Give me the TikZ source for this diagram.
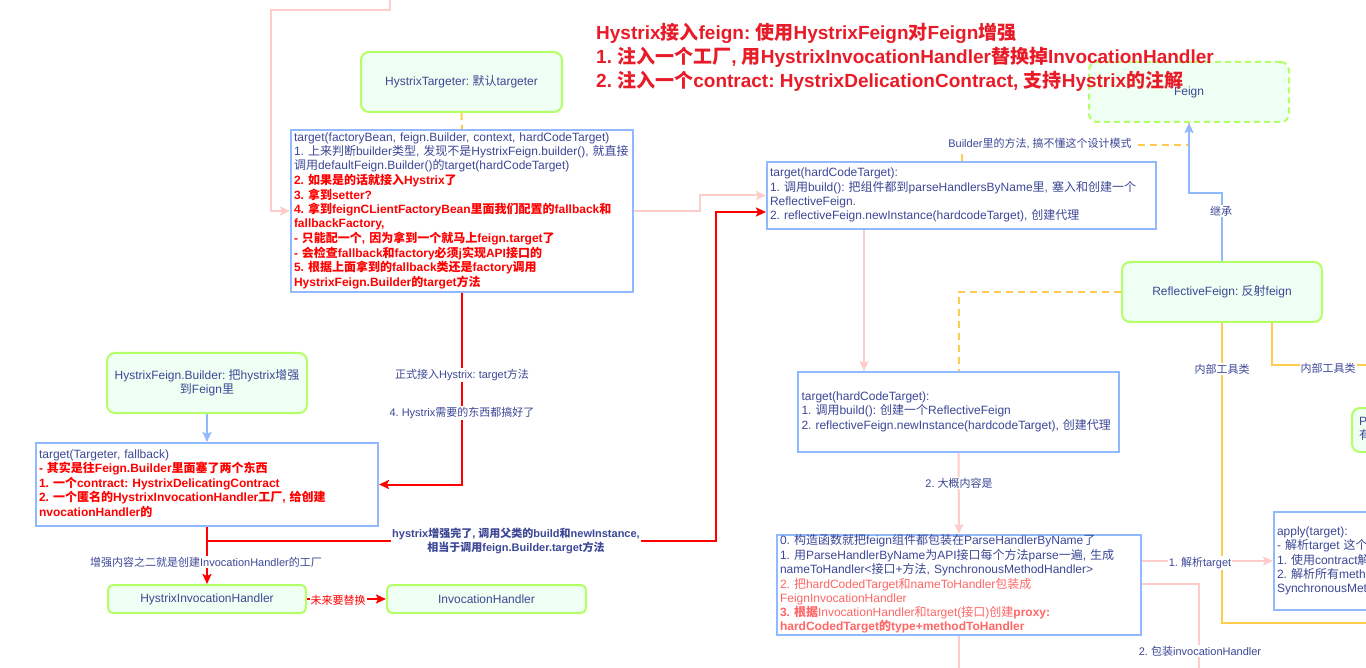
\documentclass[tikz,border=0pt]{standalone}
\usepackage{fontspec}
\setmainfont{Liberation Sans}
\newfontfamily\latinfont{Liberation Sans}
\newfontfamily\cjkfont{Noto Sans CJK SC}
\usetikzlibrary{arrows.meta,calc}
\frenchspacing
\newXeTeXintercharclass\CJKcls
\newcount\cjkcnt
\def\setcjkrange#1#2{\cjkcnt=#1\relax\loop\ifnum\cjkcnt<#2\relax\XeTeXcharclass\cjkcnt=\CJKcls\relax\advance\cjkcnt by 1\relax\repeat}
\setcjkrange{"4E00}{"A000}
\setcjkrange{"3000}{"3040}
\setcjkrange{"FF00}{"FFF0}
\XeTeXinterchartoks 0 \CJKcls = {\cjkfont}
\XeTeXinterchartoks 4095 \CJKcls = {\cjkfont}
\XeTeXinterchartoks \CJKcls 0 = {\latinfont}
\XeTeXinterchartoks \CJKcls 4095 = {\latinfont}
\XeTeXinterchartokenstate=1
\definecolor{txt}{RGB}{60,72,150}
\definecolor{gborder}{RGB}{179,255,102}
\definecolor{gfill}{RGB}{240,255,243}
\definecolor{bborder}{RGB}{145,185,255}
\definecolor{pinkc}{RGB}{255,204,204}
\definecolor{orangec}{RGB}{255,204,80}
\definecolor{hred}{RGB}{255,0,0}
\definecolor{titlered}{RGB}{232,28,40}
\definecolor{lred}{RGB}{255,102,102}
\newcommand\boxfont{\fontsize{12}{14}\selectfont\frenchspacing}
\newcommand\lblfont{\fontsize{11}{14}\selectfont\frenchspacing}
\newcommand\titlefont{\fontsize{19}{24}\selectfont\bfseries\frenchspacing}
\newcommand\mlines[1]{\begin{tabular}{@{}l@{}}#1\end{tabular}}
\newcommand\rb{\color{hred}\bfseries}
\begin{document}
\begin{tikzpicture}[x=1pt,y=-1pt,
  every node/.style={font=\boxfont, text=txt},
  gbox/.style={draw=gborder, line width=2pt, fill=gfill, rounded corners=8pt, align=center, inner sep=0pt},
  tbox/.style={draw=bborder, line width=2pt, fill=white, align=left, inner xsep=3pt, inner ysep=0pt},
  lbl/.style={fill=white, inner sep=1pt, font=\lblfont},
  tip/.style={-{Stealth[length=10pt,width=9pt,inset=2pt]}},
  pinkln/.style={draw=pinkc, line width=2pt},
  pinkarr/.style={pinkln, tip},
  redln/.style={draw=hred, line width=2pt},
  redarr/.style={redln, tip},
  bluearr/.style={draw=bborder, line width=2pt, tip},
  orangeln/.style={draw=orangec, line width=2pt},
  orangedash/.style={orangeln, dash pattern=on 7pt off 5pt}]
\fill[white] (0,0) rectangle (1366,668);
\useasboundingbox (0,0) rectangle (1366,668);
\clip (0,0) rectangle (1366,668);

% ---------- green boxes ----------
\node[gbox, minimum width=201pt, minimum height=60pt] (targeter) at (461.5,82) {HystrixTargeter: 默认targeter};
\node[gbox, dash pattern=on 6pt off 4pt, minimum width=200pt, minimum height=60pt] (feign) at (1189,92) {\raisebox{-2pt}{Feign}};
\node[gbox, minimum width=200pt, minimum height=60pt] (reflective) at (1222,292) {ReflectiveFeign: 反射feign};
\node[gbox, minimum width=200pt, minimum height=60pt] (hfb) at (207,383) {HystrixFeign.Builder: 把hystrix增强\\到Feign里};
\node[gbox, rounded corners=5pt, minimum width=198pt, minimum height=28pt] (hih) at (207,599) {HystrixInvocationHandler};
\node[gbox, rounded corners=5pt, minimum width=199pt, minimum height=28pt] (ih) at (486.5,599) {InvocationHandler};
\node[gbox, minimum width=200pt, minimum height=44pt, text width=186pt, align=left] (parse) at (1452,430) {\mlines{ParseHandlersByName\\有}};

% ---------- title (drawn over the Feign box) ----------
\node[anchor=north west, inner sep=0pt, font=\titlefont, text=titlered, align=left] (title) at (596,23) {\mlines{%
Hystrix接入feign: 使用HystrixFeign对Feign增强\\
1. 注入一个工厂, 用HystrixInvocationHandler替换掉InvocationHandler\\
2. 注入一个contract: HystrixDelicationContract, 支持Hystrix的注解}};

% ---------- text boxes ----------
\node[tbox, minimum width=342pt, minimum height=162pt, text width=336pt] (box1) at (462,211) {\mlines{%
target(factoryBean, feign.Builder, context, hardCodeTarget)\\
1. 上来判断builder类型, 发现不是HystrixFeign.builder(), 就直接\\
调用defaultFeign.Builder()的target(hardCodeTarget)\\
\rb 2. 如果是的话就接入Hystrix了\\
\rb 3. 拿到setter?\\
\rb 4. 拿到feignCLientFactoryBean里面我们配置的fallback和\\
\rb fallbackFactory,\\
\rb - 只能配一个, 因为拿到一个就马上feign.target了\\
\rb - 会检查fallback和factory必须j实现API接口的\\
\rb 5. 根据上面拿到的fallback类还是factory调用\\
\rb HystrixFeign.Builder的target方法}};

\node[tbox, minimum width=389pt, minimum height=67pt, text width=383pt] (box2) at (961.5,195.5) {\mlines{%
target(hardCodeTarget):\\
1. 调用build(): 把组件都到parseHandlersByName里, 塞入和创建一个\\
ReflectiveFeign.\\
2. reflectiveFeign.newInstance(hardcodeTarget), 创建代理}};

\node[tbox, minimum width=321pt, minimum height=80pt, text width=314pt] (box3) at (958.5,412) {\mlines{%
target(hardCodeTarget):\\
1. 调用build(): 创建一个ReflectiveFeign\\
2. reflectiveFeign.newInstance(hardcodeTarget), 创建代理}};

\node[tbox, minimum width=364pt, minimum height=98pt, text width=358pt] (box4) at (959,585) {\mlines{%
0. 构造函数就把feign组件都包装在ParseHandlerByName了\\
1. 用ParseHandlerByName为API接口每个方法parse一遍, 生成\\
nameToHandler<接口+方法, SynchronousMethodHandler>\\
\color{lred}2. 把hardCodedTarget和nameToHandler包装成\\
\color{lred}FeignInvocationHandler\\
\color{lred}\bfseries 3. 根据\mdseries InvocationHandler和target(接口)创建\bfseries proxy:\\
\color{lred}\bfseries hardCodedTarget的type+methodToHandler}};

\node[tbox, minimum width=342pt, minimum height=83pt, text width=336pt] (box5) at (207,484.5) {\mlines{%
target(Targeter, fallback)\\
\rb - 其实是往Feign.Builder里面塞了两个东西\\
\rb 1. 一个contract: HystrixDelicatingContract\\
\rb 2. 一个匿名的HystrixInvocationHandler工厂, 给创建\\
\rb nvocationHandler的}};

\node[tbox, minimum width=200pt, minimum height=98pt, text width=194pt] (apply) at (1374,561) {\mlines{%
apply(target):\\
- 解析target 这个接口\\
1. 使用contract解析方法\\
2. 解析所有method, 生成\\
SynchronousMethodHandler}};

% ---------- free ends / waypoints ----------
\coordinate (topsrc) at (390,-5);
\coordinate (offR1) at (1380,623);
\coordinate (offR2) at (1380,365);
\coordinate (offB) at (959,680);
\coordinate (offB2) at (1199,680);
\coordinate (rj) at (207,541);
\coordinate (rk) at (716,541);
\coordinate (pk) at (700,211);

% ---------- connectors ----------
\draw[pinkarr] (topsrc) |- (271,10) |- (box1.west);
\draw[orangedash] (targeter.south) -- (box1.north);
\draw[pinkarr] (box1.east) -- (pk) |- (box2.west);
\draw[orangedash] (box2.north) |- ($(feign.south)+(0,22)$) -- (feign.south);
\draw[bluearr] (reflective.north) |- ($(feign.south)+(0,70)$) -- (feign.south);
\draw[orangedash] (reflective.west) -| (box3.north);
\draw[orangeln] (reflective.south) |- (offR1);
\draw[orangeln] ([xshift=50pt]reflective.south) |- (offR2);
\draw[pinkarr] ([xshift=-97.5pt]box2.south) -- ([xshift=-94.5pt]box3.north);
\draw[pinkarr] (box3.south) -- (box4.north);
\draw[pinkln] (box4.south) -- (offB);
\draw[pinkarr] (apply.west -| box4.east) -- (apply.west);
\draw[pinkln] ([yshift=1pt]box4.east) -| (offB2);
\draw[redarr] (box1.south) |- (box5.east);
\draw[bluearr] (hfb.south) -- (box5.north);
\draw[redarr] (box5.south) -- (rj) -- (rk) |- ([yshift=-16.5pt]box2.west);
\draw[redarr] (rj) -- (hih.north);
\draw[redarr] (hih.east) -- (ih.west);

% ---------- labels ----------
\node[lbl] (l1) at (1040,144) {Builder里的方法, 搞不懂这个设计模式};
\node[lbl] (l2) at (1221,211) {继承};
\node[lbl] (l3) at (1222,369) {内部工具类};
\node[lbl] (l4) at (1328,368) {内部工具类};
\node[lbl] (l5) at (959,483) {2. 大概内容是};
\node[lbl] (l6) at (1200,563) {1. 解析target};
\node[lbl] (l7) at (1200,651) {2. 包装invocationHandler};
\node[lbl] (l8) at (462,375) {正式接入Hystrix: target方法};
\node[lbl] (l9) at (462,413) {4. Hystrix需要的东西都搞好了};
\node[lbl, font=\lblfont\bfseries, align=center] (l10) at (516,541) {hystrix增强完了, 调用父类的build和newInstance,\\相当于调用feign.Builder.target方法};
\node[lbl] (l11) at (206,562) {增强内容之二就是创建InvocationHandler的工厂};
\node[lbl, text=hred] (l12) at (338,600) {未来要替换};
\end{tikzpicture}
\end{document}
